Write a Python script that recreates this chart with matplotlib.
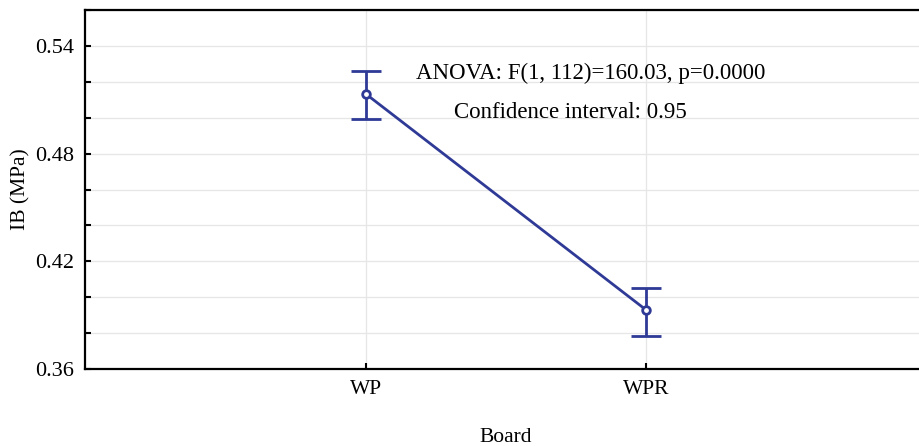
import numpy as np
import matplotlib.pyplot as plt

# means and confidence limits
boards = ['WP', 'WPR']
ib_mean = [0.5133, 0.3928]
ib_upper = [0.5261, 0.4050]
ib_lower = [0.4994, 0.3783]

plt.rcParams['font.family'] = ['Liberation Serif', 'DejaVu Serif']

fig = plt.figure(figsize=(9.19, 4.46), dpi=100)
# axes runs past the right edge of the figure, like the cropped original
ax = fig.add_axes([85/919, 1 - 369/446, 842/919, 359/446])

x = np.arange(1, len(boards) + 1)
mean = np.array(ib_mean)
err = [mean - np.array(ib_lower), np.array(ib_upper) - mean]
col = '#2f3a96'
ax.errorbar(x, mean, yerr=err, color=col, lw=2, capsize=10.5, capthick=2,
            marker='o', markersize=5.5, markerfacecolor='white',
            markeredgewidth=2, zorder=3)

ax.set_xlim(0, 3)
ax.set_ylim(0.36, 0.56)
ax.set_xticks(x)
ax.set_xticklabels(boards, fontsize=15.5)
ax.set_yticks([0.36, 0.42, 0.48, 0.54])
ax.set_yticklabels(['0.36', '0.42', '0.48', '0.54'], fontsize=16)
ax.set_yticks(np.arange(0.36, 0.5601, 0.02), minor=True)
ax.grid(True, which='both', color='#e6e6e6', lw=0.9)
ax.tick_params(which='both', direction='in', length=4, width=1.5, color='black')
ax.tick_params(axis='x', pad=8)
ax.tick_params(axis='y', pad=8)
for s in ax.spines.values():
    s.set_linewidth(1.6)

ax.set_xlabel('Board', fontsize=15.5)
ax.xaxis.set_label_coords(0.5, -0.163)
ax.set_ylabel('IB (MPa)', fontsize=15.5)
ax.yaxis.set_label_coords(-55/842, 0.50)

ax.text(1.803, 0.5244, 'ANOVA: F(1, 112)=160.03, p=0.0000',
        ha='center', va='center', fontsize=16.5)
ax.text(1.728, 0.5028, 'Confidence interval: 0.95',
        ha='center', va='center', fontsize=16.5)

fig.savefig('out.png', dpi=100)
